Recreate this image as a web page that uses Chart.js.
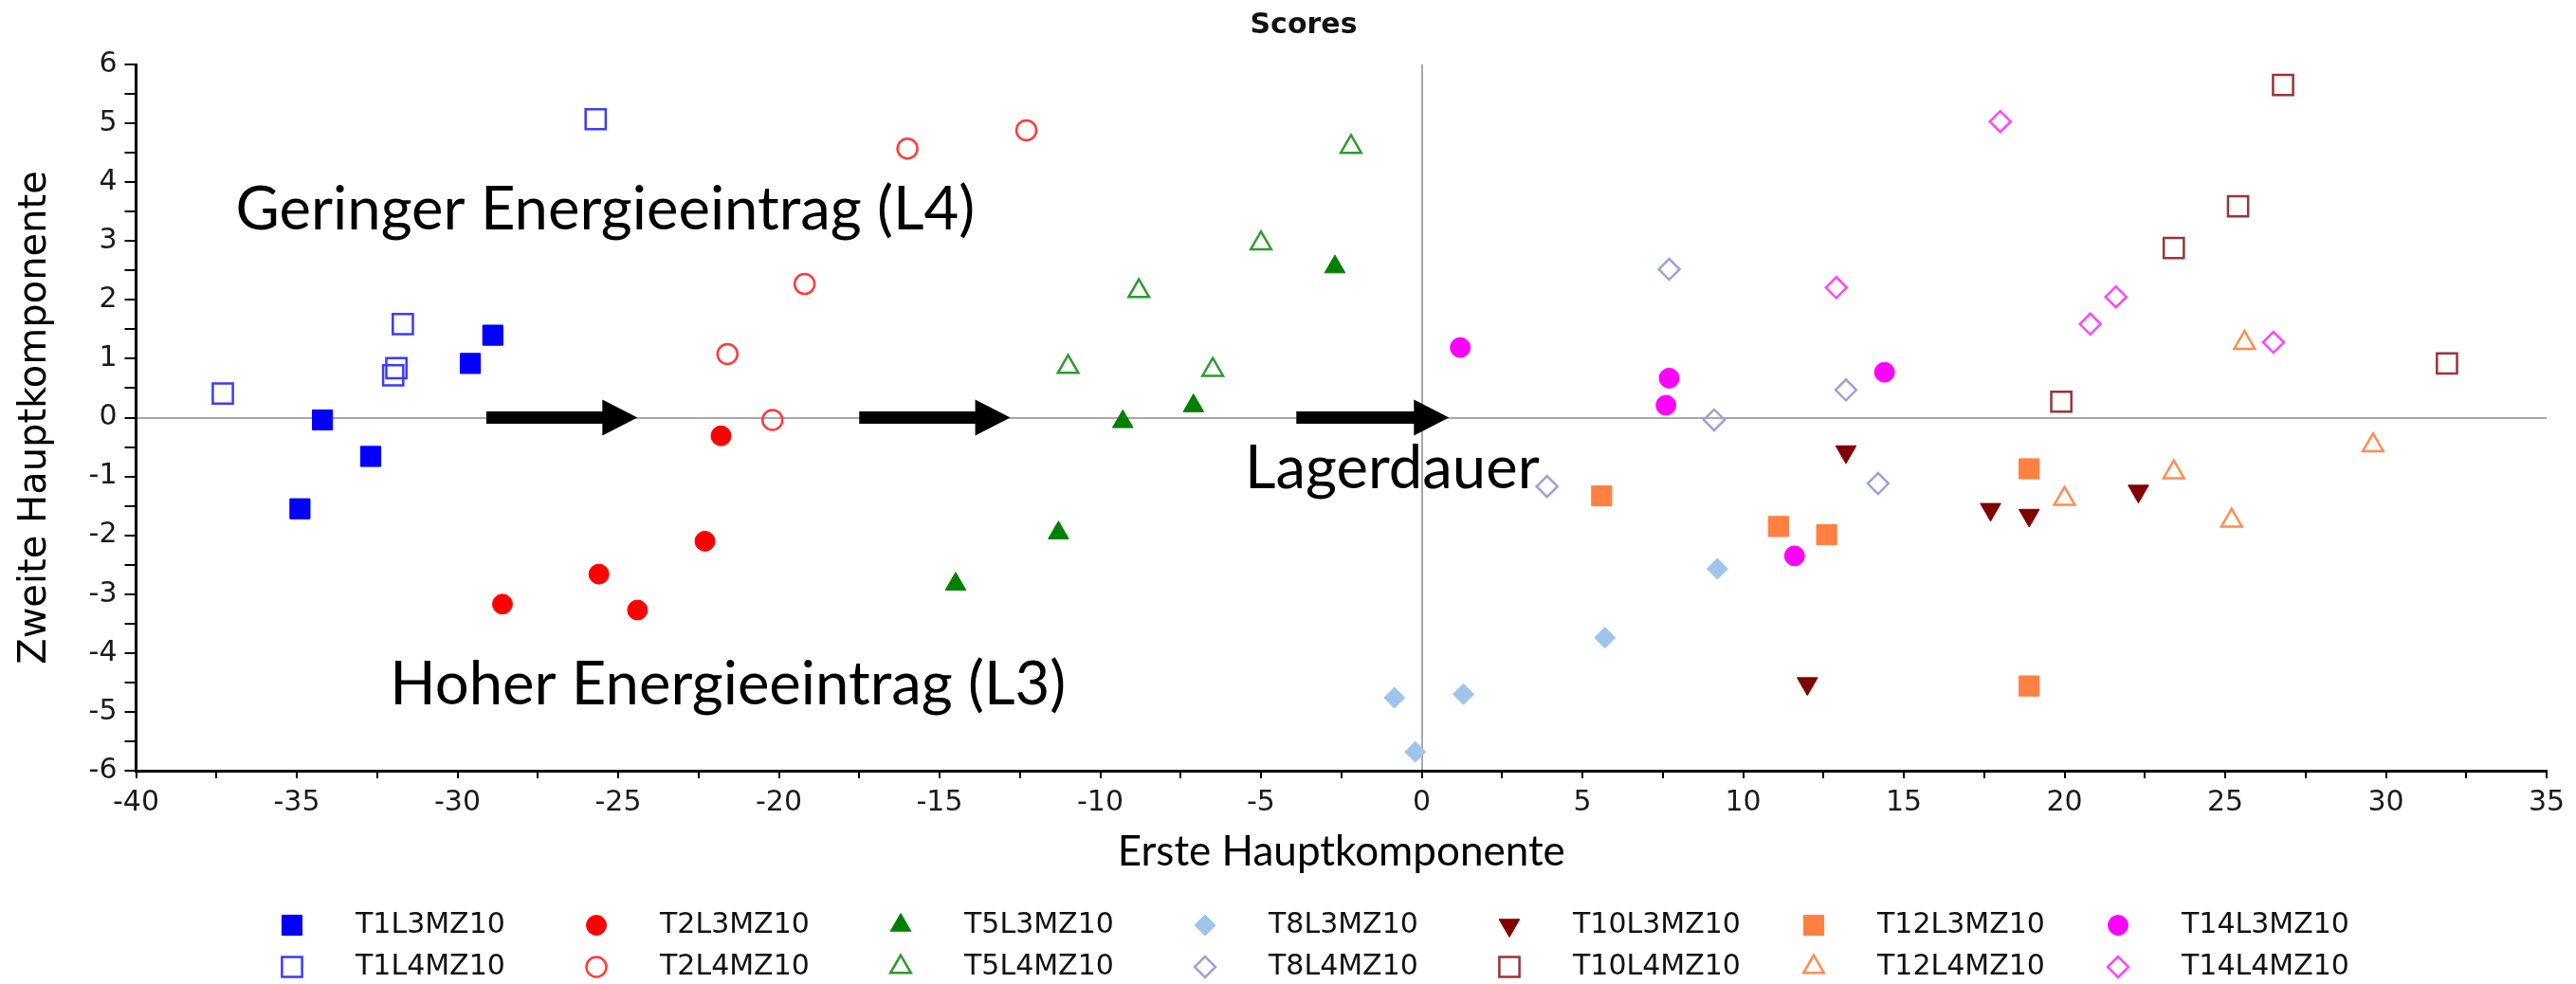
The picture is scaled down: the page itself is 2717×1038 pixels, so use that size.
<!DOCTYPE html>
<html>
<head>
<meta charset="utf-8">
<title>Scores</title>
<script src="https://cdn.jsdelivr.net/npm/chart.js@4.4.1/dist/chart.umd.min.js"></script>
<style>
  html, body { margin: 0; padding: 0; background: #fff; }
  canvas { display: block; }
</style>
</head>
<body>
<canvas id="scores" width="2717" height="1038"></canvas>
<script>
// PCA scores: [first component, second component]
const seriesNames = [
    'T1L3MZ10', 'T2L3MZ10', 'T5L3MZ10', 'T8L3MZ10', 'T10L3MZ10', 'T12L3MZ10', 'T14L3MZ10',
    'T1L4MZ10', 'T2L4MZ10', 'T5L4MZ10', 'T8L4MZ10', 'T10L4MZ10', 'T12L4MZ10', 'T14L4MZ10',
];

const T1L3 = [[-28.9, 1.40], [-29.6, 0.92], [-34.2, -0.04], [-32.7, -0.66], [-34.9, -1.55]];
const T2L3 = [[-21.8, -0.31], [-22.3, -2.10], [-25.6, -2.66], [-28.6, -3.17], [-24.4, -3.27]];
const T5L3 = [[-2.7, 2.56], [-7.1, 0.20], [-9.3, -0.07], [-11.3, -1.96], [-14.5, -2.83]];
const T8L3 = [[-0.85, -4.76], [1.3, -4.70], [-0.2, -5.68], [5.7, -3.74], [9.2, -2.57]];
const T10L3 = [[13.2, -0.58], [17.7, -1.56], [18.9, -1.66], [22.3, -1.25], [12.0, -4.52]];
const T12L3 = [[5.6, -1.33], [18.9, -0.87], [11.1, -1.85], [12.6, -1.99], [18.9, -4.56]];
const T14L3 = [[1.2, 1.19], [7.7, 0.67], [7.6, 0.21], [14.4, 0.77], [11.6, -2.35]];

const T1L4 = [[-25.7, 5.07], [-37.3, 0.41], [-31.7, 1.59], [-31.9, 0.84], [-32.0, 0.72]];
const T2L4 = [[-19.2, 2.27], [-21.6, 1.08], [-20.2, -0.04], [-16.0, 4.57], [-12.3, 4.88]];
const T5L4 = [[-2.2, 4.60], [-5.0, 2.96], [-8.8, 2.15], [-11.0, 0.86], [-6.5, 0.81]];
const T8L4 = [[3.9, -1.17], [7.7, 2.52], [9.1, -0.04], [13.2, 0.47], [14.2, -1.12]];
const T10L4 = [[26.8, 5.65], [25.4, 3.59], [23.4, 2.88], [31.9, 0.92], [19.9, 0.27]];
const T12L4 = [[25.6, 1.27], [29.6, -0.47], [23.4, -0.93], [20.0, -1.38], [25.2, -1.75]];
const T14L4 = [[18.0, 5.03], [12.9, 2.21], [21.6, 2.05], [20.8, 1.59], [26.5, 1.28]];

const seriesPoints = [T1L3, T2L3, T5L3, T8L3, T10L3, T12L3, T14L3,
                      T1L4, T2L4, T5L4, T8L4, T10L4, T12L4, T14L4];

// axis ranges and tick steps
const xRange = [-40, 35];
const yRange = [-6, 6];
const xStep = 2.5, xLabelStep = 5;
const yStep = 0.5, yLabelStep = 1;

// annotations (data units)
const arrowFrom = [-29.1, -17.5, -3.9];
const arrowTo = [-24.4, -12.8, 0.85];
const notes = [
    { text: 'Geringer Energieeintrag (L4)', x: -36.9, y: 3.19 },
    { text: 'Hoher Energieeintrag (L3)', x: -32.1, y: -4.87 },
    { text: 'Lagerdauer', x: -5.5, y: -1.2 },
];

// marker styles, same order as seriesNames
const markerStyles = [
    { color: '#0000ff', shape: 'rect', r: 15 },
    { color: '#ff0000', shape: 'circle', r: 10.5 },
    { color: '#008000', shape: 'triangle', r: 12.5 },
    { color: '#9fc5eb', shape: 'rectRot', r: 11 },
    { color: '#800000', shape: 'triangle', r: 12.5, rot: 180 },
    { color: '#ff8040', shape: 'rect', r: 15 },
    { color: '#ff00ff', shape: 'circle', r: 10.5 },
    { color: '#3b3bff', shape: 'rect', r: 15, open: true },
    { color: '#ff3b3b', shape: 'circle', r: 10.5, open: true },
    { color: '#2e9a2e', shape: 'triangle', r: 12.5, open: true },
    { color: '#a0a0d6', shape: 'rectRot', r: 11, open: true },
    { color: '#9a3434', shape: 'rect', r: 15, open: true },
    { color: '#ff8c50', shape: 'triangle', r: 12.5, open: true },
    { color: '#ff44ff', shape: 'rectRot', r: 11, open: true },
];

const TICK_FONT = '"DejaVu Sans", Verdana, sans-serif';
const NOTE_FONT = 'Lato, "Open Sans", sans-serif';

const datasets = seriesNames.map((name, i) => {
    const s = markerStyles[i];
    return {
        label: name,
        data: seriesPoints[i].map(([x, y]) => ({ x, y })),
        pointStyle: s.shape,
        pointRadius: s.r,
        pointRotation: s.rot || 0,
        pointBorderWidth: s.open ? 2.5 : 1,
        borderColor: s.color,
        backgroundColor: s.open ? 'rgba(0,0,0,0)' : s.color,
        showLine: false,
    };
});

const drawMarker = (ctx, ds, x, y) => {
    ctx.save();
    ctx.fillStyle = ds.backgroundColor;
    ctx.strokeStyle = ds.borderColor;
    ctx.lineWidth = ds.pointBorderWidth;
    Chart.helpers.drawPoint(ctx, {
        pointStyle: ds.pointStyle,
        radius: ds.pointRadius,
        rotation: ds.pointRotation,
        borderWidth: ds.pointBorderWidth,
    }, x, y);
    ctx.restore();
};

// arrows + the three text labels inside the plot
const notesPlugin = {
    id: 'notes',
    afterDatasetsDraw(chart) {
        const { ctx, scales: { x, y } } = chart;
        ctx.save();
        ctx.fillStyle = '#000';
        const y0 = y.getPixelForValue(0);
        const shaft = 6.5, headH = 19, headL = 37;
        arrowFrom.forEach((from, i) => {
            const x1 = x.getPixelForValue(from);
            const x2 = x.getPixelForValue(arrowTo[i]);
            ctx.beginPath();
            ctx.moveTo(x1, y0 - shaft);
            ctx.lineTo(x2 - headL, y0 - shaft);
            ctx.lineTo(x2 - headL, y0 - headH);
            ctx.lineTo(x2, y0);
            ctx.lineTo(x2 - headL, y0 + headH);
            ctx.lineTo(x2 - headL, y0 + shaft);
            ctx.lineTo(x1, y0 + shaft);
            ctx.closePath();
            ctx.fill();
        });

        // fit the note font to the width of the first label
        ctx.font = '100px ' + NOTE_FONT;
        const size = 100 * 780 / ctx.measureText(notes[0].text).width;
        ctx.font = size.toFixed(1) + 'px ' + NOTE_FONT;
        ctx.textBaseline = 'alphabetic';
        ctx.textAlign = 'left';
        notes.forEach((n) => {
            ctx.fillText(n.text, x.getPixelForValue(n.x), y.getPixelForValue(n.y));
        });
        ctx.restore();
    },
};

// chart title and the 2 x 7 legend grid
const frameTextPlugin = {
    id: 'frameText',
    afterDraw(chart) {
        const ctx = chart.ctx;
        ctx.save();
        ctx.fillStyle = '#111';
        ctx.font = 'bold 30px ' + TICK_FONT;
        ctx.textAlign = 'center';
        ctx.textBaseline = 'middle';
        ctx.fillText('Scores', 1375, 27);

        ctx.font = '30px ' + TICK_FONT;
        ctx.textAlign = 'left';
        chart.data.datasets.forEach((ds, i) => {
            const col = i % 7;
            const row = Math.floor(i / 7);
            const mx = 308 + col * 321;
            const my = 976 + row * 44;
            drawMarker(ctx, ds, mx, my);
            ctx.fillStyle = '#111';
            ctx.fillText(ds.label, mx + 67, my);
        });
        ctx.restore();
    },
};

const zeroLine = (c) => (c.tick && c.tick.value === 0 ? '#a8a8a8' : 'rgba(0,0,0,0)');

const config = {
    type: 'scatter',
    data: { datasets },
    plugins: [notesPlugin, frameTextPlugin],
    options: {
        responsive: false,
        devicePixelRatio: 1,
        animation: false,
        events: [],
        layout: { padding: { left: 8, right: 31, top: 68, bottom: 113 } },
        plugins: {
            legend: { display: false },
            tooltip: { enabled: false },
            title: { display: false },
        },
        scales: {
            x: {
                type: 'linear',
                min: xRange[0],
                max: xRange[1],
                afterFit: (scale) => { scale.height = 112; },
                border: { display: true, color: '#000', width: 3 },
                grid: { color: zeroLine, lineWidth: 2, tickColor: '#000', tickWidth: 2, tickLength: 8 },
                ticks: {
                    stepSize: xStep,
                    autoSkip: false,
                    maxRotation: 0,
                    padding: 8,
                    color: '#1a1a1a',
                    font: { family: TICK_FONT, size: 30 },
                    callback: (v) => (v % xLabelStep === 0 ? v : ''),
                },
                title: {
                    display: true,
                    text: 'Erste Hauptkomponente',
                    color: '#000',
                    font: { family: NOTE_FONT, size: 44 },
                    padding: { top: 0, bottom: 0 },
                },
            },
            y: {
                type: 'linear',
                min: yRange[0],
                max: yRange[1],
                afterFit: (scale) => { scale.width = 135.5; },
                border: { display: true, color: '#000', width: 3 },
                grid: { color: zeroLine, lineWidth: 2, tickColor: '#000', tickWidth: 2, tickLength: 12 },
                ticks: {
                    stepSize: yStep,
                    autoSkip: false,
                    padding: 8,
                    color: '#1a1a1a',
                    font: { family: TICK_FONT, size: 30 },
                    callback: (v) => (v % yLabelStep === 0 ? v : ''),
                },
                title: {
                    display: true,
                    text: 'Zweite Hauptkomponente',
                    color: '#000',
                    font: { family: TICK_FONT, size: 40 },
                    padding: { top: 6, bottom: 0 },
                },
            },
        },
    },
};

const scoresChart = new Chart(document.getElementById('scores').getContext('2d'), config);
</script>
</body>
</html>
